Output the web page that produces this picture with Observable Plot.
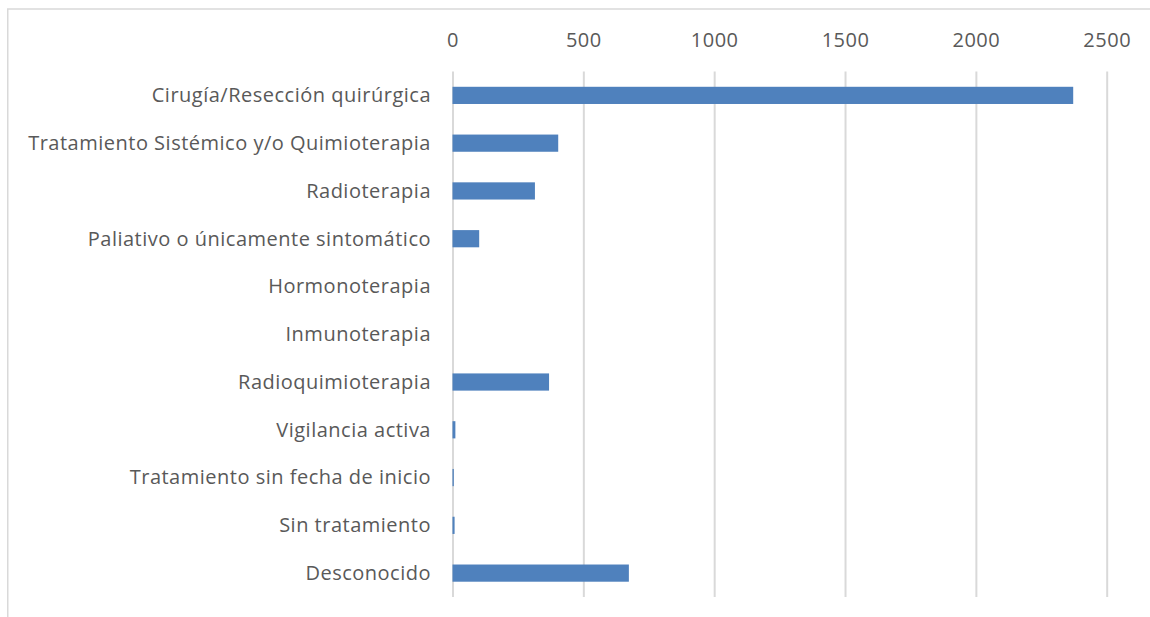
<!DOCTYPE html>
<html>
<head>
<meta charset="utf-8">
<script src="https://cdn.jsdelivr.net/npm/d3@7"></script>
<script src="https://cdn.jsdelivr.net/npm/@observablehq/plot@0.6"></script>
<style>
  html, body { margin: 0; padding: 0; background: #fff; }
  #chart { width: 1150px; height: 617px; overflow: hidden; }
  #chart svg text { letter-spacing: 0.5px; }
</style>
</head>
<body>
<div id="chart"></div>
<script>
const categories = [
  "Cirugía/Resección quirúrgica",
  "Tratamiento Sistémico y/o Quimioterapia",
  "Radioterapia",
  "Paliativo o únicamente sintomático",
  "Hormonoterapia",
  "Inmunoterapia",
  "Radioquimioterapia",
  "Vigilancia activa",
  "Tratamiento sin fecha de inicio",
  "Sin tratamiento",
  "Desconocido"
];
const values = [2372, 404, 315, 102, 0, 0, 369, 11, 5, 8, 674];
const xTicks = [0, 500, 1000, 1500, 2000, 2500];

const data = categories.map((c, i) => ({category: c, value: values[i]}));

const chart = Plot.plot({
  width: 1150,
  height: 617,
  marginLeft: 452.5,
  marginRight: 43.3,
  marginTop: 71.5,
  marginBottom: 20,
  style: {fontFamily: "'Open Sans', 'Noto Sans', sans-serif", fontSize: "20px", color: "#595959", background: "#fff"},
  x: {domain: [0, 2500], ticks: xTicks},
  y: {domain: categories, paddingInner: 0.64, paddingOuter: 0.32, round: false},
  marks: [
    Plot.gridX(xTicks, {stroke: "#d9d9d9", strokeOpacity: 1, strokeWidth: 2}),
    Plot.barX(data, {x: "value", y: "category", fill: "#4f81bd"}),
    Plot.axisX(xTicks, {anchor: "top", tickSize: 0, tickPadding: 25, tickFormat: d => String(d), fill: "#595959", fontSize: 20, label: null}),
    Plot.axisY({tickSize: 0, tickPadding: 22, fill: "#595959", fontSize: 20, label: null})
  ]
});

const svg = d3.select(chart);
svg.insert("path", ":first-child")
  .attr("d", "M7.75,617 V9 H1150")
  .attr("fill", "none")
  .attr("stroke", "#d9d9d9")
  .attr("stroke-width", 1.5);

document.getElementById("chart").appendChild(chart);
</script>
</body>
</html>
